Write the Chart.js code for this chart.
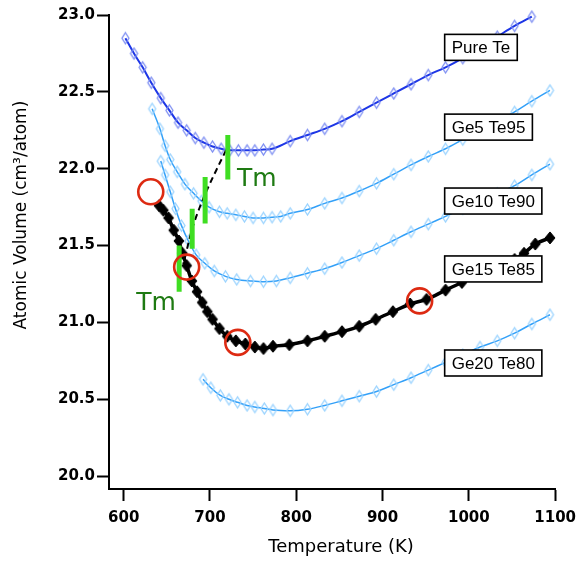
<!DOCTYPE html>
<html>
<head>
<meta charset="utf-8">
<script src="https://cdn.jsdelivr.net/npm/chart.js@4/dist/chart.umd.min.js"></script>
<style>
  html, body { margin: 0; padding: 0; background: #fff; }
  #wrap { width: 584px; height: 561px; position: relative; }
</style>
</head>
<body>
<div id="wrap"><canvas id="chart"></canvas></div>
<script>
// Axis ticks
const xTicks = [600, 700, 800, 900, 1000, 1100];
const yTicks = [20.0, 20.5, 21.0, 21.5, 22.0, 22.5, 23.0];

// Series names
const seriesNames = ['Pure Te', 'Ge5 Te95', 'Ge10 Te90', 'Ge15 Te85', 'Ge20 Te80'];

// Temperature (K) and atomic volume (cm3/atom) for each composition
const pureTeT = [602, 612, 622, 632, 643, 653, 663, 673, 683, 693, 703, 713, 723, 733, 743, 752, 762, 772, 793, 813, 833, 853, 873, 893, 913, 933, 953, 973, 993, 1013, 1033, 1053, 1073];
const pureTeV = [22.85, 22.75, 22.66, 22.56, 22.46, 22.38, 22.30, 22.25, 22.20, 22.17, 22.145, 22.13, 22.12, 22.12, 22.12, 22.12, 22.125, 22.13, 22.18, 22.22, 22.26, 22.31, 22.37, 22.43, 22.49, 22.55, 22.61, 22.66, 22.72, 22.79, 22.86, 22.93, 22.99];

const ge5T = [633, 642, 648, 654, 662, 671, 681, 690, 699, 711, 720, 730, 740, 750, 762, 772, 782, 793, 813, 833, 853, 873, 893, 913, 933, 953, 973, 993, 1013, 1033, 1053, 1073, 1094];
const ge5V = [22.39, 22.26, 22.15, 22.06, 21.98, 21.90, 21.84, 21.79, 21.75, 21.72, 21.71, 21.70, 21.69, 21.68, 21.68, 21.685, 21.69, 21.71, 21.735, 21.775, 21.81, 21.855, 21.905, 21.965, 22.025, 22.08, 22.13, 22.19, 22.25, 22.31, 22.37, 22.44, 22.51];

const ge10T = [643, 648, 654, 660, 667, 675, 684, 694, 705, 718, 731, 747, 762, 777, 793, 813, 833, 853, 873, 893, 913, 933, 953, 973, 993, 1013, 1033, 1053, 1073, 1094];
const ge10V = [22.05, 21.96, 21.85, 21.74, 21.63, 21.53, 21.44, 21.385, 21.335, 21.30, 21.28, 21.27, 21.265, 21.27, 21.29, 21.32, 21.35, 21.39, 21.435, 21.48, 21.535, 21.59, 21.64, 21.69, 21.74, 21.79, 21.84, 21.89, 21.96, 22.03];

const ge15T = [641, 646, 652, 658, 664, 668, 673, 679, 685, 691, 697, 703, 711, 720, 730, 741, 752, 762, 773, 792, 813, 833, 853, 873, 892, 912, 932, 951, 973, 992, 1013, 1033, 1053, 1064, 1077, 1094];
const ge15V = [21.76, 21.73, 21.68, 21.60, 21.53, 21.45, 21.37, 21.27, 21.20, 21.13, 21.07, 21.02, 20.96, 20.91, 20.88, 20.86, 20.84, 20.83, 20.845, 20.855, 20.88, 20.91, 20.94, 20.975, 21.02, 21.07, 21.12, 21.15, 21.21, 21.26, 21.31, 21.36, 21.41, 21.45, 21.51, 21.55];

const ge20T = [692, 701, 712, 722, 732, 743, 752, 763, 773, 793, 813, 833, 853, 873, 893, 913, 933, 953, 973, 993, 1013, 1033, 1053, 1073, 1094];
const ge20V = [20.63, 20.575, 20.525, 20.50, 20.48, 20.46, 20.45, 20.44, 20.43, 20.425, 20.435, 20.46, 20.49, 20.52, 20.55, 20.595, 20.64, 20.69, 20.74, 20.79, 20.84, 20.88, 20.93, 20.99, 21.05];

// Melting-point markers (green bars): temperature, top and bottom volume
const tmBarT = [720.7, 694.4, 679.4, 664.3];
const tmBarTop = [22.22, 21.946, 21.74, 21.50];
const tmBarBottom = [21.93, 21.644, 21.48, 21.20];

// Dashed guide through the melting points
const tmDashT = [718.5, 695.6, 680.5, 669.2];
const tmDashV = [22.12, 21.85, 21.63, 21.38];

// Highlighted Ge15 Te85 points (red circles)
const circleT = [631.4, 673, 732.3, 943];
const circleV = [21.85, 21.36, 20.87, 21.14];

// Where the annotation texts sit, in axis units
const layoutNotes = {
  boxLeftT: 972,
  boxCenterV: [22.79, 22.271, 21.79, 21.348, 20.736],
  tmText: [[754.2, 21.927], [637.4, 21.125]]
};

const pts = (xs, ys) => xs.map((v, i) => ({ x: v, y: ys[i] }));

// Diamond marker drawn onto a small canvas (taller than wide)
function diamond(w, h, stroke, fill, lw) {
  const c = document.createElement('canvas');
  const pad = Math.ceil(lw) + 1;
  c.width = w + pad * 2;
  c.height = h + pad * 2;
  const g = c.getContext('2d');
  const cx = c.width / 2, cy = c.height / 2;
  g.beginPath();
  g.moveTo(cx, pad);
  g.lineTo(pad + w, cy);
  g.lineTo(cx, pad + h);
  g.lineTo(pad, cy);
  g.closePath();
  if (fill) { g.fillStyle = fill; g.fill(); }
  if (stroke) { g.strokeStyle = stroke; g.lineWidth = lw; g.stroke(); }
  return c;
}

const darkBlue = '#1d36e6';
const lightBlue = '#33a0f8';
const markPure = diamond(7, 11, '#7d8ef2', null, 1.3);
const markLight = diamond(7, 11, '#9ad3ff', null, 1.3);
const markBlack = diamond(10, 12, '#000', '#000', 1);

const datasets = [];

// Red circles
datasets.push({
  label: 'circles', data: pts(circleT, circleV), showLine: false,
  pointStyle: 'circle', pointRadius: 12.5, pointBorderWidth: 2.6,
  pointBorderColor: '#dd2a12', pointBackgroundColor: 'rgba(0,0,0,0)', clip: false
});

// Green melting-point bars
tmBarT.forEach((t, i) => {
  datasets.push({
    label: 'tm' + i, data: [{ x: t, y: tmBarTop[i] }, { x: t, y: tmBarBottom[i] }],
    borderColor: '#3fde22', borderWidth: 5, pointRadius: 0, borderCapStyle: 'butt', tension: 0
  });
});

// Dashed guide
datasets.push({
  label: 'tmLine', data: pts(tmDashT, tmDashV), borderColor: '#000', borderWidth: 2,
  borderDash: [6, 4], pointRadius: 0, tension: 0.3
});

function series(name, xs, ys, color, width, marker) {
  return {
    label: name, data: pts(xs, ys), borderColor: color, borderWidth: width,
    pointStyle: marker, pointRadius: 5, cubicInterpolationMode: 'monotone', clip: false
  };
}
datasets.push(series(seriesNames[3], ge15T, ge15V, '#000', 3.5, markBlack));
datasets.push(series(seriesNames[0], pureTeT, pureTeV, darkBlue, 2, markPure));
datasets.push(series(seriesNames[1], ge5T, ge5V, lightBlue, 1.5, markLight));
datasets.push(series(seriesNames[2], ge10T, ge10V, lightBlue, 1.5, markLight));
datasets.push(series(seriesNames[4], ge20T, ge20V, lightBlue, 1.5, markLight));

// Texts: series labels in boxes, Tm notes, axis titles
const overlay = {
  id: 'overlay',
  afterDatasetsDraw(chart) {
    const { ctx, scales: { x, y } } = chart;
    ctx.save();
    ctx.font = '25px "DejaVu Sans"';
    ctx.fillStyle = '#1e7a12';
    ctx.textAlign = 'center';
    ctx.textBaseline = 'middle';
    layoutNotes.tmText.forEach(([t, v]) => {
      ctx.fillText('Tm', x.getPixelForValue(t), y.getPixelForValue(v));
    });

    ctx.font = '17px "Liberation Sans"';
    ctx.textAlign = 'left';
    seriesNames.forEach((name, i) => {
      const left = x.getPixelForValue(layoutNotes.boxLeftT);
      const cy = y.getPixelForValue(layoutNotes.boxCenterV[i]);
      const w = ctx.measureText(name).width + 14;
      const h = 26;
      ctx.fillStyle = '#fff';
      ctx.fillRect(left, cy - h / 2, w, h);
      ctx.strokeStyle = '#000';
      ctx.lineWidth = 1.6;
      ctx.strokeRect(left, cy - h / 2, w, h);
      ctx.fillStyle = '#000';
      ctx.fillText(name, left + 7, cy + 1);
    });
    ctx.restore();
  },
  afterDraw(chart) {
    const { ctx, chartArea } = chart;
    ctx.save();
    ctx.fillStyle = '#000';
    ctx.textAlign = 'center';
    ctx.textBaseline = 'middle';
    ctx.font = '17px "DejaVu Sans"';
    ctx.translate(chartArea.left - 87, chartArea.top + 200);
    ctx.rotate(-Math.PI / 2);
    ctx.fillText('Atomic Volume (cm³/atom)', 0, 0);
    ctx.restore();

    ctx.save();
    ctx.fillStyle = '#000';
    ctx.textAlign = 'center';
    ctx.textBaseline = 'middle';
    ctx.font = '18px "DejaVu Sans"';
    ctx.fillText('Temperature (K)', (chartArea.left + chartArea.right) / 2 + 9, chartArea.bottom + 58);
    ctx.restore();
  }
};

Chart.defaults.color = '#000';

const tickFont = { family: 'DejaVu Sans', size: 15, weight: 'bold' };

new Chart(document.getElementById('chart'), {
  type: 'line',
  data: { datasets },
  options: {
    responsive: true,
    maintainAspectRatio: false,
    animation: false,
    layout: { padding: { top: 12, right: 19, left: 0, bottom: 0 } },
    plugins: { legend: { display: false }, tooltip: { enabled: false } },
    scales: {
      x: {
        type: 'linear', min: 583, max: 1100,
        afterBuildTicks: s => { s.ticks = xTicks.map(v => ({ value: v })); },
        afterFit: s => { s.height = 72; },
        grid: { drawOnChartArea: false, drawTicks: true, tickLength: 12, tickWidth: 2, tickColor: '#000' },
        border: { display: true, color: '#000', width: 2 },
        ticks: { padding: 8, maxRotation: 0, font: tickFont, color: '#000', callback: v => String(v) }
      },
      y: {
        type: 'linear', min: 19.916, max: 23.0,
        afterBuildTicks: s => { s.ticks = yTicks.map(v => ({ value: v })); },
        afterFit: s => { s.width = 109; },
        grid: { drawOnChartArea: false, drawTicks: true, tickLength: 12, tickWidth: 2, tickColor: '#000' },
        border: { display: true, color: '#000', width: 2 },
        ticks: { padding: 2, font: tickFont, color: '#000', callback: v => v.toFixed(1) }
      }
    }
  },
  plugins: [overlay]
});
</script>
</body>
</html>
